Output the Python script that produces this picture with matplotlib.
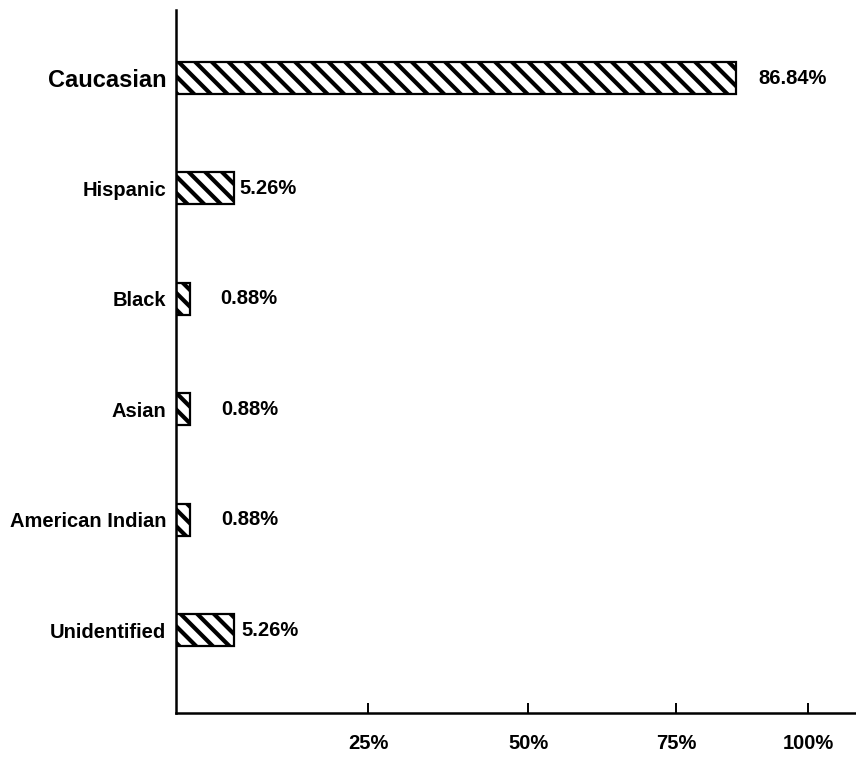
import numpy as np
import matplotlib
matplotlib.use("Agg")
import matplotlib.pyplot as plt

# data (top to bottom)
groups = ["Caucasian", "Hispanic", "Black", "Asian", "American Indian", "Unidentified"]
percent = [86.84, 5.26, 0.88, 0.88, 0.88, 5.26]
value_labels = ["86.84%", "5.26%", "0.88%", "0.88%", "0.88%", "5.26%"]
tick_values = [25, 50, 75, 100]
tick_labels = ["25%", "50%", "75%", "100%"]

# the original was drawn by hand and is not to scale, so the x axis
# follows the spacing of the printed chart (value -> pixels from the axis)
scale_vals = [0, 0.88, 5.26, 25, 50, 75, 86.84, 100, 110]
scale_px = [0, 14, 58, 192, 352, 500, 560, 632, 687]

def fwd(v):
    return np.interp(v, scale_vals, scale_px)

def inv(p):
    return np.interp(p, scale_px, scale_vals)

# gap between bar end and its value label, in pixels
label_gap = [22, 5, 30, 31, 31, 7]

plt.rcParams["font.family"] = ["Liberation Sans", "DejaVu Sans"]
plt.rcParams["font.weight"] = "bold"
plt.rcParams["hatch.linewidth"] = 3.0

fig = plt.figure(figsize=(8.56, 7.6), dpi=100)
ax = fig.add_axes([0.2056, 0.0618, 0.7944, 0.925])
ax.set_xscale("function", functions=(fwd, inv))

y = np.arange(len(groups))
bars = ax.barh(y, percent, height=0.29, color="white", edgecolor="black",
               linewidth=1.6, hatch="\\\\")

for i, b in enumerate(bars):
    ax.annotate(value_labels[i], (b.get_width(), b.get_y() + b.get_height() / 2),
                xytext=(label_gap[i], 0), textcoords="offset pixels",
                ha="left", va="center", fontsize=14.5, fontweight="bold")

ax.set_xlim(0, 108.7)
ax.set_ylim(5.752, -0.616)

ax.set_yticks(y)
ax.set_yticklabels(groups)
for i, t in enumerate(ax.get_yticklabels()):
    t.set_fontweight("bold")
    t.set_fontsize(17 if i == 0 else 14.5)
ax.tick_params(axis="y", length=0, pad=7)

ax.set_xticks(tick_values)
ax.set_xticklabels(tick_labels, fontsize=14.5, fontweight="bold")
ax.xaxis.set_minor_locator(matplotlib.ticker.NullLocator())
ax.tick_params(axis="x", direction="in", length=7, width=1.4, pad=15)

for side in ["top", "right"]:
    ax.spines[side].set_visible(False)
for side in ["left", "bottom"]:
    ax.spines[side].set_linewidth(1.8)

fig.savefig("out.png", dpi=100)
